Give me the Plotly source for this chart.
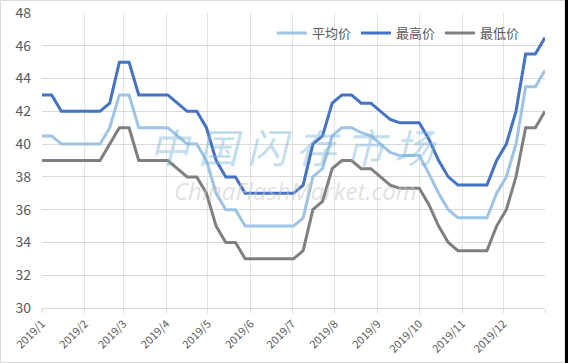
import datetime as dt
import plotly.graph_objects as go

# weekly dates through 2019
start = dt.date(2019, 1, 1)
dates = [start + dt.timedelta(days=7 * i) for i in range(53)]

avg_price = [40.5, 40.5, 40, 40, 40, 40, 40, 41, 43, 43,
             41, 41, 41, 41, 40.5, 40, 40, 39, 37, 36,
             36, 35, 35, 35, 35, 35, 35, 35.5, 38, 38.5,
             40.5, 41, 41, 40.7, 40.5, 40, 39.5, 39.3, 39.3, 39.3,
             38.2, 37, 36, 35.5, 35.5, 35.5, 35.5, 37, 38, 40,
             43.5, 43.5, 44.5]
max_price = [43, 43, 42, 42, 42, 42, 42, 42.5, 45, 45,
             43, 43, 43, 43, 42.5, 42, 42, 41, 39, 38,
             38, 37, 37, 37, 37, 37, 37, 37.5, 40, 40.5,
             42.5, 43, 43, 42.5, 42.5, 42, 41.5, 41.3, 41.3, 41.3,
             40.3, 39, 38, 37.5, 37.5, 37.5, 37.5, 39, 40, 42,
             45.5, 45.5, 46.5]
min_price = [39, 39, 39, 39, 39, 39, 39, 40, 41, 41,
             39, 39, 39, 39, 38.5, 38, 38, 37, 35, 34,
             34, 33, 33, 33, 33, 33, 33, 33.5, 36, 36.5,
             38.5, 39, 39, 38.5, 38.5, 38, 37.5, 37.3, 37.3, 37.3,
             36.3, 35, 34, 33.5, 33.5, 33.5, 33.5, 35, 36, 38,
             41, 41, 42]

month_ticks = [dt.date(2019, m, 1) for m in range(1, 13)] + [dt.date(2019, 12, 31)]
month_labels = [f"2019/{m}" for m in range(1, 13)] + [""]
series_names = ["平均价", "最高价", "最低价"]

fig = go.Figure()
for name, vals, col in [(series_names[0], avg_price, "#9DC3E6"),
                        (series_names[1], max_price, "#4472C4"),
                        (series_names[2], min_price, "#7F7F7F")]:
    fig.add_trace(go.Scatter(x=dates, y=vals, mode="lines", name=name,
                             line=dict(color=col, width=3)))

fig.update_layout(
    width=568, height=363,
    margin=dict(l=42, r=23, t=13, b=55),
    paper_bgcolor="white", plot_bgcolor="white",
    font=dict(family="Noto Sans CJK SC, Liberation Sans, sans-serif", color="#595959"),
    showlegend=True,
    legend=dict(orientation="h", x=0.96, xanchor="right", y=0.932, yanchor="middle",
                font=dict(size=13, color="#595959"), bgcolor="rgba(0,0,0,0)"),
    xaxis=dict(type="date", range=[dt.date(2019, 1, 1), dt.date(2019, 12, 31)],
               tickmode="array", tickvals=month_ticks, ticktext=month_labels,
               tickangle=-45, tickfont=dict(size=11, color="#595959"),
               showgrid=True, gridcolor="#E3E3E3", gridwidth=1,
               ticks="outside", ticklen=4, tickcolor="#D9D9D9",
               showline=True, linecolor="#D9D9D9", zeroline=False, fixedrange=True,
               automargin=False),
    yaxis=dict(range=[30, 48], tick0=30, dtick=2, tickfont=dict(size=14, color="#595959"),
               showgrid=True, gridcolor="#D9D9D9", gridwidth=1, zeroline=False,
               ticklabelstandoff=10, fixedrange=True, automargin=False),
)

# watermark
fig.add_annotation(text="中 国 闪 存 市 场", xref="paper", yref="paper",
                   x=(293 - 42) / 503, y=(308 - 146) / 295, showarrow=False,
                   font=dict(size=40, color="rgba(120,180,215,0.45)", style="italic",
                             family="Noto Sans CJK SC"))
fig.add_annotation(text="ChinaFlashMarket.com", xref="paper", yref="paper",
                   x=(295 - 42) / 503, y=(308 - 190) / 295, showarrow=False,
                   font=dict(size=24, color="rgba(200,200,200,0.55)", style="italic",
                             family="Open Sans"))

# outer frame
fig.add_shape(type="rect", xref="paper", yref="paper", x0=-41.5 / 503, x1=1 + 20 / 503,
              y0=-54.5 / 295, y1=1 + 12.5 / 295, line=dict(color="#D9D9D9", width=1))
fig.add_shape(type="rect", xref="paper", yref="paper", x0=1 + 20 / 503, x1=1 + 23 / 503,
              y0=-55 / 295, y1=1 + 13 / 295, fillcolor="black", line=dict(width=0))

fig.write_html("out.html", config={"displayModeBar": False},
               post_script="document.body.style.margin='0';document.body.style.overflow='hidden';")
